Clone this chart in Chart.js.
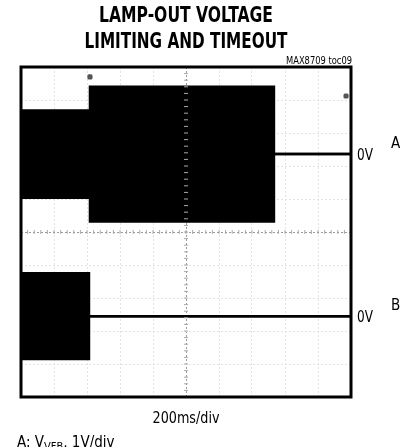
<!DOCTYPE html>
<html>
<head>
<meta charset="utf-8">
<script src="https://cdn.jsdelivr.net/npm/chart.js@4.4.0/dist/chart.umd.min.js"></script>
<style>
   html, body { margin: 0; padding: 0; background: #fff; }
   #wrap { width: 417px; height: 447px; position: relative; }
</style>
</head>
<body>
<div id="wrap"><canvas id="scope" width="417" height="447"></canvas></div>
<script>
// DATA (time in ms, 200ms/div; levels in screen divisions, 1V/div for A)
const timeA = [0, 418, 1533, 2000];
const ampA = [1.32, 2.04, 0];
const groundA = 2.36;

const timeB = [0, 412, 2000];
const ampB = [1.3, 0];
const groundB = -2.55;

// scope markers (trigger point, channel dot)
const markerTimes = [418, 1970];
const markerLevels = [4.7, 4.12];

const xTicksMs = [0, 200, 400, 600, 800, 1000, 1200, 1400, 1600, 1800, 2000];
const yTicksDiv = [-5, -4, -3, -2, -1, 0, 1, 2, 3, 4, 5];

// build step envelope (upper / lower) from segment edges
function envelope(times, amps, ground, sign) {
   const pts = [];
   for (let i = 0; i < amps.length; i++) {
      pts.push({ x: times[i], y: ground + sign * amps[i] });
      pts.push({ x: times[i + 1], y: ground + sign * amps[i] });
   }
   return pts;
}

function traceSet(data, fill) {
   return {
      data: data,
      borderColor: "#000",
      backgroundColor: "#000",
      borderWidth: 2.5,
      pointRadius: 0,
      tension: 0,
      fill: fill,
   };
}

// FRAME, CENTER TICKS AND LABELS
const scopeDecor = {
   id: "scopeDecor",
   afterDatasetsDraw(chart) {
      const ctx = chart.ctx;
      const a = chart.chartArea;
      const xs = chart.scales.x;
      const ys = chart.scales.y;
      ctx.save();

      // small ticks on center lines
      ctx.strokeStyle = "#aaa";
      ctx.lineWidth = 1;
      const cx = xs.getPixelForValue(1000);
      const cy = ys.getPixelForValue(0);
      for (let t = 0; t <= 2000; t += 40) {
         const px = xs.getPixelForValue(t);
         ctx.beginPath();
         ctx.moveTo(px, cy - 2);
         ctx.lineTo(px, cy + 2);
         ctx.stroke();
      }
      for (let d = -5; d <= 5; d += 0.2) {
         const py = ys.getPixelForValue(d);
         ctx.beginPath();
         ctx.moveTo(cx - 2, py);
         ctx.lineTo(cx + 2, py);
         ctx.stroke();
      }

      // frame
      ctx.strokeStyle = "#000";
      ctx.lineWidth = 3;
      ctx.strokeRect(a.left, a.top, a.right - a.left, a.bottom - a.top);

      // texts
      ctx.fillStyle = "#000";
      ctx.textBaseline = "alphabetic";
      const narrow = '"Liberation Sans Narrow", "DejaVu Sans Condensed", sans-serif';

      ctx.textAlign = "center";
      ctx.font = "bold 21px " + narrow;
      ctx.fillText("LAMP-OUT VOLTAGE", 186, 22, 174);
      ctx.fillText("LIMITING AND TIMEOUT", 186, 48, 203);

      ctx.textAlign = "right";
      ctx.font = "10px " + narrow;
      ctx.fillText("MAX8709 toc09", a.right + 1, 64, 66);

      ctx.textAlign = "left";
      ctx.font = "15px " + narrow;
      const yA = ys.getPixelForValue(groundA);
      const yB = ys.getPixelForValue(groundB);
      ctx.fillText("0V", a.right + 6, yA + 6, 16);
      ctx.fillText("0V", a.right + 6, yB + 6, 16);
      ctx.fillText("A", a.right + 40, yA - 6);
      ctx.fillText("B", a.right + 40, yB - 6);

      ctx.textAlign = "center";
      ctx.fillText("200ms/div", cx, 423, 67);

      ctx.textAlign = "left";
      let x = 17;
      ctx.fillText("A: V", x, 447);
      x += ctx.measureText("A: V").width;
      ctx.font = "11px " + narrow;
      ctx.fillText("VFB", x, 450);
      x += ctx.measureText("VFB").width;
      ctx.font = "15px " + narrow;
      ctx.fillText(", 1V/div", x, 447);

      ctx.restore();
   },
};

const ctx1 = document.getElementById("scope").getContext("2d");
window.chart1 = new Chart(ctx1, {
   type: "line",
   data: {
      datasets: [
         traceSet(envelope(timeA, ampA, groundA, 1), "+1"),
         traceSet(envelope(timeA, ampA, groundA, -1), false),
         traceSet(envelope(timeB, ampB, groundB, 1), "+1"),
         traceSet(envelope(timeB, ampB, groundB, -1), false),
         {
            type: "scatter",
            data: markerTimes.map((t, i) => ({ x: t, y: markerLevels[i] })),
            pointRadius: 3,
            pointStyle: "rectRounded",
            backgroundColor: "#555",
            borderColor: "#555",
            borderWidth: 0,
            showLine: false,
         },
      ],
   },
   options: {
      responsive: false,
      animation: false,
      layout: {
         padding: { left: 21, top: 67, right: 66, bottom: 50 },
      },
      plugins: {
         legend: { display: false },
         tooltip: { enabled: false },
         title: { display: false },
      },
      scales: {
         x: {
            type: "linear",
            min: 0,
            max: 2000,
            afterBuildTicks: (axis) => {
               axis.ticks = xTicksMs.map((v) => ({ value: v }));
            },
            ticks: { display: false },
            grid: {
               drawTicks: false,
               color: (c) => (c.tick.value === 1000 ? "#999" : "#e2e2e2"),
               lineWidth: 1,
            },
            border: { display: false, dash: [2, 2] },
         },
         y: {
            type: "linear",
            min: -5,
            max: 5,
            afterBuildTicks: (axis) => {
               axis.ticks = yTicksDiv.map((v) => ({ value: v }));
            },
            ticks: { display: false },
            grid: {
               drawTicks: false,
               color: (c) => (c.tick.value === 0 ? "#999" : "#e2e2e2"),
               lineWidth: 1,
            },
            border: { display: false, dash: [2, 2] },
         },
      },
   },
   plugins: [scopeDecor],
});
</script>
</body>
</html>
